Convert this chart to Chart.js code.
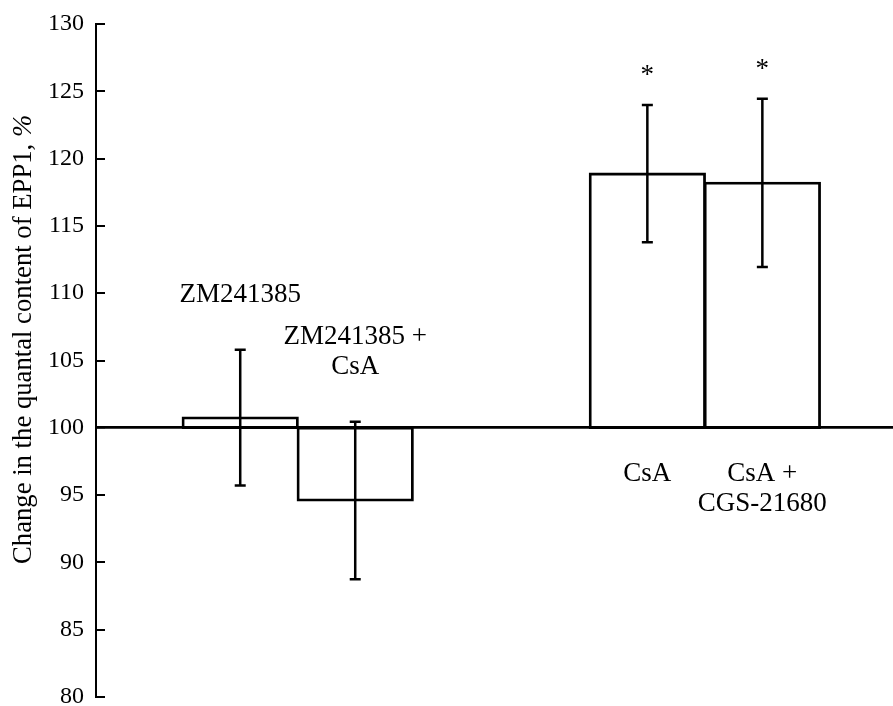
<!DOCTYPE html>
<html>
<head>
<meta charset="utf-8">
<script src="https://cdn.jsdelivr.net/npm/chart.js@4"></script>
<style>
  html, body { margin: 0; padding: 0; background: #fff; overflow: hidden; }
  canvas { display: block; }
</style>
</head>
<body>
<canvas id="chart" width="893" height="706"></canvas>
<script>
// Treatment groups (label lines), their slot on the x scale, mean change and error
const groups = [['ZM241385'], ['ZM241385 +', 'CsA'], ['CsA'], ['CsA +', 'CGS-21680']];
const slots = [1, 2, 4.54, 5.54];
const means = [100.76, 94.6, 118.88, 118.2];
const errors = [5.04, 5.85, 5.1, 6.25];
const marks = ['', '', '*', '*'];
const yTicks = [80, 85, 90, 95, 100, 105, 110, 115, 120, 125, 130];
const baseline = 100;
const yTitle = 'Change in the quantal content of EPP1, ';
const yTitleUnit = '%';

const FONT = '"Liberation Serif", "Times New Roman", serif';
Chart.defaults.font.family = FONT;
Chart.defaults.color = '#000';

// Whiskers, significance marks, group names and the rotated axis title
const annotate = {
  id: 'annotate',
  afterDatasetsDraw(chart) {
    const { ctx, scales: { y } } = chart;
    const meta = chart.getDatasetMeta(0);
    const y0 = y.getPixelForValue(baseline);
    ctx.save();
    ctx.strokeStyle = '#000';
    ctx.fillStyle = '#000';
    ctx.lineWidth = 2.5;
    ctx.font = '27px ' + FONT;
    ctx.textAlign = 'center';
    ctx.textBaseline = 'alphabetic';
    means.forEach((m, i) => {
      const cx = meta.data[i].x;
      const top = y.getPixelForValue(m + errors[i]);
      const bot = y.getPixelForValue(m - errors[i]);
      ctx.beginPath();
      ctx.moveTo(cx, top); ctx.lineTo(cx, bot);
      ctx.moveTo(cx - 5.5, top); ctx.lineTo(cx + 5.5, top);
      ctx.moveTo(cx - 5.5, bot); ctx.lineTo(cx + 5.5, bot);
      ctx.stroke();
      if (marks[i]) ctx.fillText(marks[i], cx, top - 22);
      const lines = groups[i];
      if (m - baseline > 10) {
        // tall bars: name under the baseline
        lines.forEach((t, k) => ctx.fillText(t, cx, y0 + 53 + k * 30));
      } else {
        // short bars: name above the whisker
        lines.forEach((t, k) => ctx.fillText(t, cx, top - 48 - (lines.length - 1 - k) * 30));
      }
    });

    // y axis title, reading bottom to top, unit in italics
    ctx.translate(31, 564);
    ctx.rotate(-Math.PI / 2);
    ctx.textAlign = 'left';
    ctx.font = '26.7px ' + FONT;
    ctx.fillText(yTitle, 0, 0);
    const w = ctx.measureText(yTitle).width;
    ctx.font = 'italic 26.7px ' + FONT;
    ctx.fillText(yTitleUnit, w, 0);
    ctx.restore();
  }
};

new Chart(document.getElementById('chart'), {
  type: 'bar',
  data: {
    datasets: [{
      data: slots.map((x, i) => ({ x, y: [baseline, means[i]] })),
      backgroundColor: 'rgba(0,0,0,0)',
      borderColor: '#000',
      // thin inset border grown outward so each outline sits on the bar edge
      borderWidth: 0.6,
      inflateAmount: 1.1,
      borderSkipped: false,
      barPercentage: 1,
      categoryPercentage: 1
    }]
  },
  options: {
    responsive: false,
    animation: false,
    events: [],
    layout: { padding: { left: 0, right: 0, top: 24, bottom: 9 } },
    plugins: { legend: { display: false }, tooltip: { enabled: false } },
    scales: {
      x: {
        type: 'linear',
        display: false,
        offset: false,
        min: -0.254,
        max: 6.676,
        afterBuildTicks: s => { s.ticks = slots.map(v => ({ value: v })); }
      },
      y: {
        type: 'linear',
        min: 80,
        max: 130,
        afterBuildTicks: s => { s.ticks = yTicks.map(v => ({ value: v })); },
        afterFit: s => { s.width = 96; s.paddingTop = 0; s.paddingBottom = 0; },
        border: { display: true, color: '#000', width: 2 },
        grid: {
          drawOnChartArea: true,
          drawTicks: true,
          tickLength: -9,
          tickWidth: 2,
          tickColor: '#000',
          color: c => (c.tick && c.tick.value === baseline ? '#000' : 'rgba(0,0,0,0)'),
          lineWidth: c => (c.tick && c.tick.value === baseline ? 2.7 : 0)
        },
        ticks: {
          padding: 21,
          color: '#000',
          font: { size: 24, family: FONT }
        }
      }
    }
  },
  plugins: [annotate]
});
</script>
</body>
</html>
